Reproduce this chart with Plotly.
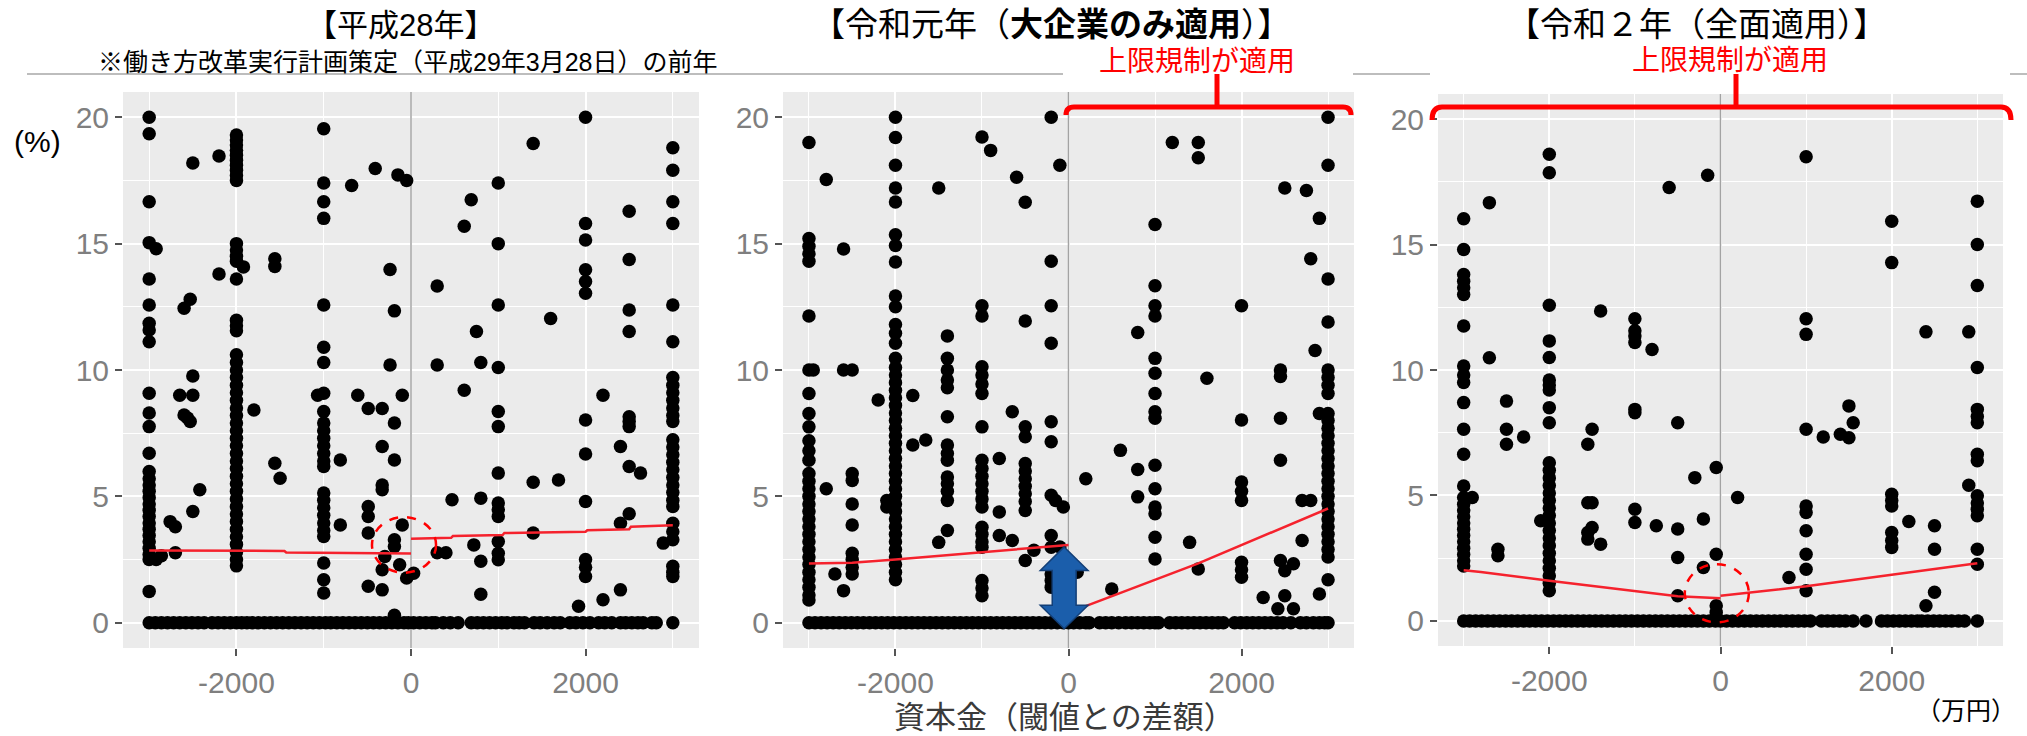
import plotly.graph_objects as go

W, H = 2027, 736

# ------------------------------------------------------------------
# Overtime ratio (%) against capital distance from the SME threshold
# (万円).  Each entry: (capital difference, [ratios at that x]).
# Zero-ratio firms are listed separately by x only.
# ------------------------------------------------------------------

H28_COLS = [
    (-3000, [20.0, 19.35, 16.66, 15.04, 13.6, 12.57, 11.85, 11.58, 11.12, 9.08, 8.3, 7.76, 6.71,
             5.98, 5.7, 5.45, 5.2, 4.95, 4.7, 4.45, 4.2, 3.95, 3.7, 3.45, 3.2, 2.95, 2.7, 2.5, 1.24]),
    (-2920, [14.8, 2.5]),
    (-2860, [2.65]),
    (-2760, [4.0]),
    (-2700, [3.8, 2.77]),
    (-2650, [9.0]),
    (-2600, [12.44, 8.22]),
    (-2560, [8.1]),
    (-2530, [12.8, 7.96]),
    (-2500, [18.19, 9.76, 9.0, 4.4]),
    (-2420, [5.26]),
    (-2200, [18.47, 13.8]),
    (-2000, [19.3, 19.1, 18.9, 18.7, 18.5, 18.3, 18.1, 17.9, 17.7, 17.5, 15.0, 14.75, 14.5, 14.3,
             13.6, 11.97, 11.75, 11.55, 10.6, 10.3, 10.0, 9.7, 9.4, 9.1, 8.8, 8.5, 8.2, 7.9, 7.6,
             7.3, 7.0, 6.7, 6.4, 6.1, 5.8, 5.5, 5.2, 4.9, 4.6, 4.3, 4.0, 3.7, 3.4, 3.1, 2.8, 2.5, 2.25]),
    (-1920, [14.08]),
    (-1800, [8.42]),
    (-1560, [14.4, 14.1, 6.31]),
    (-1500, [5.72]),
    (-1070, [9.0]),
    (-1000, [19.55, 17.4, 16.66, 16.0, 12.57, 10.9, 10.3, 9.08, 8.36, 7.9, 7.6, 7.3, 7.0, 6.7,
             6.4, 6.18, 5.13, 4.85, 4.55, 4.25, 3.95, 3.65, 3.41, 2.36, 1.7, 1.18]),
    (-810, [6.44, 3.87]),
    (-680, [17.3]),
    (-610, [9.0]),
    (-490, [8.48, 4.6, 4.2, 3.55, 1.44]),
    (-410, [17.97]),
    (-330, [8.48, 6.97, 5.45, 5.26, 2.1, 1.3]),
    (-300, [2.62]),
    (-240, [13.98, 10.2]),
    (-190, [12.34, 7.9, 6.44, 3.28, 3.02, 0.3]),
    (-150, [17.72]),
    (-130, [2.29]),
    (-100, [9.0, 3.87]),
    (-50, [17.5, 1.77]),
    (30, [1.96]),
    (300, [13.32, 10.2, 2.77]),
    (400, [2.77]),
    (470, [4.87]),
    (610, [15.69, 9.2]),
    (690, [16.74]),
    (720, [3.08]),
    (750, [11.52]),
    (800, [10.3, 4.93, 2.43, 1.13]),
    (1000, [17.4, 15.0, 12.57, 10.1, 8.36, 7.76, 5.92, 4.74, 4.47, 4.2, 3.21, 2.75, 2.49]),
    (1400, [18.96, 5.56, 3.55]),
    (1600, [12.04]),
    (1690, [5.65]),
    (1920, [0.65]),
    (2000, [20.0, 15.8, 15.14, 13.97, 13.5, 13.04, 8.02, 6.68, 4.8, 2.5, 2.2, 1.83]),
    (2200, [9.0, 0.91]),
    (2400, [6.97, 3.94, 1.3]),
    (2500, [16.28, 14.37, 12.37, 11.52, 8.15, 7.96, 7.76, 6.18, 4.31]),
    (2630, [5.92]),
    (2890, [3.15]),
    (3000, [18.79, 17.9, 16.66, 15.8, 12.57, 11.12, 9.7, 9.4, 9.1, 8.8, 8.5, 8.2, 7.96, 7.24, 6.95,
            6.65, 6.35, 6.05, 5.75, 5.45, 5.15, 4.85, 4.6, 3.94, 3.6, 3.28, 2.23, 2.0, 1.83]),
]
H28_ZERO_X = [-3000, -2930, -2860, -2790, -2720, -2650, -2580, -2510, -2440, -2370, -2280, -2210,
              -2140, -2070, -2000, -1940, -1880, -1820, -1750, -1680, -1610, -1540, -1470, -1400,
              -1330, -1260, -1190, -1120, -1050, -980, -920, -850, -780, -710, -640, -570, -500,
              -430, -360, -290, -220, -150, -80, -30, 30, 100, 170, 240, 280, 370, 450, 540, 690,
              760, 830, 900, 970, 1040, 1100, 1180, 1240, 1300, 1410, 1480, 1560, 1640, 1710, 1820,
              1890, 1970, 2050, 2150, 2220, 2300, 2400, 2460, 2530, 2600, 2660, 2760, 2810, 3000]
H28_FIT_L_X = [-3000, -1450, -1430, 0]
H28_FIT_L_Y = [2.86, 2.84, 2.78, 2.74]
H28_FIT_R_X = [0, 460, 480, 1050, 1070, 2000, 2020, 2500, 2520, 3000]
H28_FIT_R_Y = [3.32, 3.36, 3.43, 3.47, 3.55, 3.6, 3.66, 3.7, 3.8, 3.86]

R1_COLS = [
    (-3000, [19.0, 15.2, 14.9, 14.6, 14.3, 12.14, 10.0, 9.07, 8.28, 7.75, 7.2, 6.8, 6.43, 5.9, 5.6,
             5.3, 5.0, 4.7, 4.4, 4.1, 3.8, 3.5, 3.2, 2.9, 2.6, 2.3, 2.0, 1.7, 1.4, 1.1, 0.9]),
    (-2950, [10.0]),
    (-2800, [17.54, 5.3]),
    (-2700, [1.93]),
    (-2600, [14.79, 10.0, 1.27]),
    (-2500, [10.0, 5.9, 5.63, 4.7, 3.87, 2.75, 2.5, 2.2, 1.93]),
    (-2200, [8.81]),
    (-2100, [4.84, 4.58]),
    (-2000, [20.0, 19.2, 18.1, 17.2, 16.65, 15.35, 14.93, 14.27, 12.93, 12.5, 11.8, 11.45, 11.06,
             10.46, 10.1, 9.8, 9.5, 9.2, 8.9, 8.6, 8.3, 8.0, 7.7, 7.4, 7.1, 6.8, 6.5, 6.2, 5.9,
             5.6, 5.3, 5.0, 4.7, 4.4, 4.1, 3.8, 3.5, 3.2, 2.9, 2.6, 2.3, 2.0, 1.7]),
    (-1800, [8.99, 7.03]),
    (-1650, [7.23]),
    (-1500, [17.2, 3.18]),
    (-1400, [11.35, 10.46, 10.0, 9.6, 9.3, 8.15, 7.03, 6.7, 6.43, 5.77, 5.5, 5.2, 4.84, 3.65]),
    (-1000, [19.22, 12.54, 12.14, 10.13, 9.8, 9.45, 9.07, 7.75, 6.43, 6.1, 5.8, 5.5, 5.2, 4.9,
             4.58, 3.78, 3.5, 3.2, 2.99, 1.67, 1.37, 1.07]),
    (-900, [18.69]),
    (-800, [6.5, 4.38, 3.45]),
    (-650, [8.35, 3.25]),
    (-600, [17.63]),
    (-500, [16.64, 11.94, 7.75, 7.36, 6.3, 6.0, 5.7, 5.4, 5.1, 4.8, 4.44, 2.46]),
    (-400, [2.87]),
    (-200, [20.0, 14.3, 12.54, 11.06, 7.95, 7.16, 5.04, 3.45, 2.99, 1.93, 1.67, 1.4]),
    (-150, [4.84]),
    (-100, [18.1, 3.0]),
    (-60, [4.58]),
    (100, [2.0]),
    (200, [5.7]),
    (500, [1.33]),
    (600, [6.82]),
    (800, [11.48, 6.06, 4.98]),
    (1000, [15.76, 13.33, 12.54, 12.14, 10.46, 9.87, 9.07, 8.35, 8.09, 6.23, 5.3, 4.58, 4.31,
            3.38, 2.52]),
    (1200, [19.0]),
    (1400, [3.18]),
    (1500, [19.0, 18.4, 2.13]),
    (1600, [9.67]),
    (2000, [12.54, 8.02, 5.57, 5.2, 4.84, 2.39, 2.1, 1.8]),
    (2250, [1.0]),
    (2420, [0.55]),
    (2450, [10.0, 9.74, 8.09, 6.43, 2.46]),
    (2500, [17.2, 2.06, 1.07]),
    (2600, [2.33, 0.55]),
    (2700, [4.84, 3.25]),
    (2750, [17.1]),
    (2800, [14.4, 4.84]),
    (2850, [10.77]),
    (2900, [16.0, 8.28, 1.14]),
    (3000, [20.0, 18.1, 13.6, 11.9, 10.0, 9.7, 9.4, 9.07, 8.28, 8.0, 7.7, 7.4, 7.1, 6.8, 6.5, 6.2,
            5.9, 5.6, 5.3, 5.0, 4.7, 4.4, 4.1, 3.8, 3.5, 3.2, 2.9, 2.6, 1.7]),
]
R1_ZERO_X = [-3000, -2930, -2860, -2790, -2720, -2650, -2580, -2510, -2440, -2370, -2300, -2230,
             -2160, -2090, -2020, -1950, -1880, -1810, -1740, -1670, -1600, -1530, -1460, -1390,
             -1320, -1250, -1180, -1110, -1040, -970, -900, -830, -760, -690, -620, -550, -480,
             -410, -340, -270, -200, -130, -60, 0, 60, 130, 200, 240, 360, 430, 500, 580, 660, 730,
             800, 870, 940, 1000, 1040, 1170, 1240, 1310, 1380, 1450, 1520, 1590, 1660, 1730, 1790,
             1920, 1990, 2060, 2130, 2200, 2270, 2340, 2410, 2480, 2570, 2680, 2750, 2830, 2900,
             2960, 3000]
R1_FIT_L_X = [-3000, -2500, -2000, -1000, 0]
R1_FIT_L_Y = [2.34, 2.37, 2.5, 2.8, 3.08]
R1_FIT_R_X = [0, 1500, 3000]
R1_FIT_R_Y = [0.4, 2.35, 4.52]

R2_COLS = [
    (-3000, [16.03, 14.8, 13.81, 13.54, 13.28, 13.01, 11.75, 10.16, 9.8, 9.5, 8.7, 7.64, 6.64, 5.38,
             4.92, 4.65, 4.4, 4.15, 3.9, 3.65, 3.4, 3.15, 2.9, 2.65, 2.4, 2.19]),
    (-2900, [4.92]),
    (-2700, [16.67, 10.49]),
    (-2600, [2.86, 2.6]),
    (-2500, [8.76, 7.64, 7.04]),
    (-2300, [7.33]),
    (-2100, [3.99]),
    (-2000, [18.6, 17.86, 12.58, 11.16, 10.5, 9.6, 9.4, 9.2, 8.5, 7.9, 6.3, 6.0, 5.7, 5.4, 5.1, 4.8,
             4.5, 4.2, 3.9, 3.6, 3.3, 3.0, 2.7, 2.4, 2.1, 1.8, 1.5, 1.2]),
    (-1550, [7.04, 4.71, 3.52, 3.26]),
    (-1500, [7.64, 4.71, 3.72]),
    (-1400, [12.35, 3.06]),
    (-1000, [12.04, 11.56, 11.36, 11.1, 8.43, 8.3, 4.45, 3.92]),
    (-800, [10.82]),
    (-750, [3.79]),
    (-600, [17.27]),
    (-500, [7.9, 3.66, 2.53, 1.0]),
    (-300, [5.71]),
    (-200, [4.06, 2.13]),
    (-150, [17.76]),
    (-50, [6.11, 2.66, 0.6, 0.34]),
    (200, [4.92]),
    (800, [1.73]),
    (1000, [18.5, 12.04, 11.42, 7.64, 4.58, 4.32, 3.59, 2.66, 2.06, 1.2]),
    (1200, [7.33]),
    (1400, [7.44]),
    (1500, [8.57, 7.3]),
    (1550, [7.9]),
    (2000, [15.93, 14.28, 5.05, 4.8, 4.58, 3.52, 3.2, 2.93]),
    (2200, [3.96]),
    (2400, [11.52, 0.6]),
    (2500, [3.79, 2.86, 1.14]),
    (2900, [11.52, 5.41]),
    (3000, [16.73, 15.0, 13.37, 10.1, 8.43, 8.15, 7.9, 6.64, 6.38, 4.99, 4.7, 4.45, 4.19, 2.86,
            2.26]),
]
R2_ZERO_X = [-3000, -2930, -2860, -2790, -2720, -2650, -2580, -2510, -2440, -2370, -2300, -2230,
             -2160, -2090, -2020, -1950, -1880, -1810, -1740, -1670, -1600, -1530, -1460, -1390,
             -1320, -1250, -1180, -1110, -1040, -970, -900, -830, -760, -690, -620, -550, -480,
             -410, -340, -270, -200, -130, -60, 0, 70, 140, 210, 280, 350, 420, 490, 560, 630, 700,
             770, 840, 910, 980, 1050, 1180, 1250, 1320, 1390, 1460, 1550, 1700, 1880, 1950, 2020,
             2090, 2160, 2230, 2300, 2350, 2420, 2490, 2560, 2630, 2700, 2780, 2850, 3000]
R2_FIT_L_X = [-3000, -2800, -2000, -500, 0]
R2_FIT_L_Y = [2.02, 1.95, 1.6, 0.98, 0.9]
R2_FIT_R_X = [0, 1000, 3000]
R2_FIT_R_Y = [1.0, 1.38, 2.3]

X_TICKS = [-2000, 0, 2000]
X_MINOR = [-3000, -1000, 1000, 3000]
Y_TICKS = [0, 5, 10, 15, 20]
Y_MINOR = [2.5, 7.5, 12.5, 17.5]
X_RANGE = [-3300, 3300]
Y_RANGE = [-1, 21]

TITLES = ["【平成28年】", "【令和元年（<b>大企業のみ適用</b>）】", "【令和２年（全面適用）】"]
SUBTITLE = "※働き方改革実行計画策定（平成29年3月28日）の前年"
CAP_LABEL = "上限規制が適用"
X_TITLE = "資本金（閾値との差額）"
Y_UNIT = "(%)"
X_UNIT = "（万円）"

# Latin face first keeps the text boxes tight; CJK glyphs fall back to Noto
JP = "Liberation Sans, Noto Sans CJK JP, sans-serif"
NUM = "Liberation Sans, Arial, sans-serif"


def px(x):
    return x / W


def py(y):
    return 1 - y / H


def flatten(cols, zeros):
    xs, ys = [], []
    for x, vals in cols:
        for v in vals:
            xs.append(x)
            ys.append(v)
    for x in zeros:
        xs.append(x)
        ys.append(0)
    return xs, ys


PANELS = [
    dict(cols=H28_COLS, zeros=H28_ZERO_X,
         fits=[(H28_FIT_L_X, H28_FIT_L_Y), (H28_FIT_R_X, H28_FIT_R_Y)],
         xdom=(123, 699), ydom=(92, 648)),
    dict(cols=R1_COLS, zeros=R1_ZERO_X,
         fits=[(R1_FIT_L_X, R1_FIT_L_Y), (R1_FIT_R_X, R1_FIT_R_Y)],
         xdom=(783, 1354), ydom=(92, 648)),
    dict(cols=R2_COLS, zeros=R2_ZERO_X,
         fits=[(R2_FIT_L_X, R2_FIT_L_Y), (R2_FIT_R_X, R2_FIT_R_Y)],
         xdom=(1438, 2003), ydom=(94, 646)),
]

fig = go.Figure()
shapes = []
layout_axes = {}

for i, p in enumerate(PANELS, start=1):
    sx = "" if i == 1 else str(i)
    xa, ya = "x" + sx, "y" + sx
    xs, ys = flatten(p["cols"], p["zeros"])
    fig.add_trace(go.Scatter(
        x=xs, y=ys, mode="markers", xaxis=xa, yaxis=ya,
        marker=dict(color="black", size=13.5, line=dict(width=0)),
        showlegend=False, hoverinfo="skip"))
    for fx, fy in p["fits"]:
        fig.add_trace(go.Scatter(
            x=fx, y=fy, mode="lines", xaxis=xa, yaxis=ya,
            line=dict(color="#F5222D", width=2.5),
            showlegend=False, hoverinfo="skip"))

    x0, x1 = p["xdom"]
    y0, y1 = p["ydom"]
    layout_axes["xaxis" + sx] = dict(
        domain=[px(x0), px(x1)], range=X_RANGE, anchor=ya,
        tickmode="array", tickvals=X_TICKS, ticktext=[str(v) for v in X_TICKS],
        ticks="outside", ticklen=7, tickwidth=2, tickcolor="#555555",
        ticklabelstandoff=1,
        tickfont=dict(family=NUM, size=30, color="#7F7F7F"),
        showgrid=True, gridcolor="white", gridwidth=2.4,
        minor=dict(tickmode="array", tickvals=X_MINOR, showgrid=True,
                   gridcolor="white", gridwidth=1.2, ticks=""),
        zeroline=False, showline=False, fixedrange=True)
    layout_axes["yaxis" + sx] = dict(
        domain=[py(y1), py(y0)], range=Y_RANGE, anchor=xa,
        tickmode="array", tickvals=Y_TICKS, ticktext=[str(v) for v in Y_TICKS],
        ticks="outside", ticklen=7, tickwidth=2, tickcolor="#555555",
        tickfont=dict(family=NUM, size=30, color="#7F7F7F"),
        showgrid=True, gridcolor="white", gridwidth=2.4,
        minor=dict(tickmode="array", tickvals=Y_MINOR, showgrid=True,
                   gridcolor="white", gridwidth=1.2, ticks=""),
        zeroline=False, showline=False, fixedrange=True)

    # threshold marker at zero capital difference
    shapes.append(dict(type="line", xref=xa, yref=ya, x0=0, x1=0,
                       y0=Y_RANGE[0], y1=Y_RANGE[1], layer="between",
                       line=dict(color="#A3A3A3", width=1.5)))

# dashed circles around the discontinuity at the threshold
shapes.append(dict(type="circle", xref="x", yref="y", x0=-447, x1=287, y0=1.98, y1=4.18,
                   line=dict(color="#FF0000", width=2.5, dash="dash")))
shapes.append(dict(type="circle", xref="x3", yref="y3", x0=-417, x1=331, y0=-0.06, y1=2.26,
                   line=dict(color="#FF0000", width=2.5, dash="dash")))

# blue double-headed arrow marking the gap at the threshold (令和元年)
cx, hw, sw = -50, 276, 138
tip_t, base_t, base_b, tip_b = 3.0, 2.07, 0.69, -0.24
arrow = (f"M {cx},{tip_t} L {cx + hw},{base_t} L {cx + sw},{base_t} L {cx + sw},{base_b} "
         f"L {cx + hw},{base_b} L {cx},{tip_b} L {cx - hw},{base_b} L {cx - sw},{base_b} "
         f"L {cx - sw},{base_t} L {cx - hw},{base_t} Z")
shapes.append(dict(type="path", xref="x2", yref="y2", path=arrow,
                   fillcolor="#1B5EAB", line=dict(color="#133F77", width=1.5)))


def brace(xl, xr, yline, ydrop, xc, ytop, r):
    main = (f"M {px(xl)},{py(ydrop)} Q {px(xl)},{py(yline)} {px(xl + r)},{py(yline)} "
            f"L {px(xr - r)},{py(yline)} Q {px(xr)},{py(yline)} {px(xr)},{py(ydrop)}")
    stub = f"M {px(xc)},{py(yline)} L {px(xc)},{py(ytop)}"
    style = dict(color="#FF0000", width=5)
    return [dict(type="path", xref="paper", yref="paper", path=main, line=style),
            dict(type="path", xref="paper", yref="paper", path=stub, line=style)]


shapes += brace(1066, 1351, 107, 115, 1217, 74, 8)
shapes += brace(1432, 2011, 107, 120, 1736, 74, 10)

# thin rule under the headings
for a, b in [(27, 1063), (1353, 1430), (2010, 2027)]:
    shapes.append(dict(type="line", xref="paper", yref="paper",
                       x0=px(a), x1=px(b), y0=py(74), y1=py(74),
                       line=dict(color="#BDBDBD", width=2)))


def label(text, x, y, size, color="black", family=JP, xanchor="center", yanchor="middle"):
    return dict(text=text, x=px(x), y=py(y), xref="paper", yref="paper",
                xanchor=xanchor, yanchor=yanchor, showarrow=False, borderpad=0,
                font=dict(family=family, size=size, color=color))


annotations = [
    label(TITLES[0], 400, 26, 31),
    label(TITLES[1], 1051, 25, 33),
    label(TITLES[2], 1697, 25, 33),
    label(SUBTITLE, 408, 62, 25),
    label(CAP_LABEL, 1197, 62, 28, color="#FF0000"),
    label(CAP_LABEL, 1730, 61, 28, color="#FF0000"),
    label(Y_UNIT, 37, 141, 30),
    label(X_TITLE, 1064, 736, 31, color="#3A3A3A", yanchor="bottom"),
    label(X_UNIT, 1966, 711, 25),
]

fig.update_layout(
    width=W, height=H,
    margin=dict(l=0, r=0, t=0, b=0),
    paper_bgcolor="white",
    plot_bgcolor="#EBEBEB",
    shapes=shapes,
    annotations=annotations,
    showlegend=False,
    **layout_axes,
)

fig.write_html("out.html")
